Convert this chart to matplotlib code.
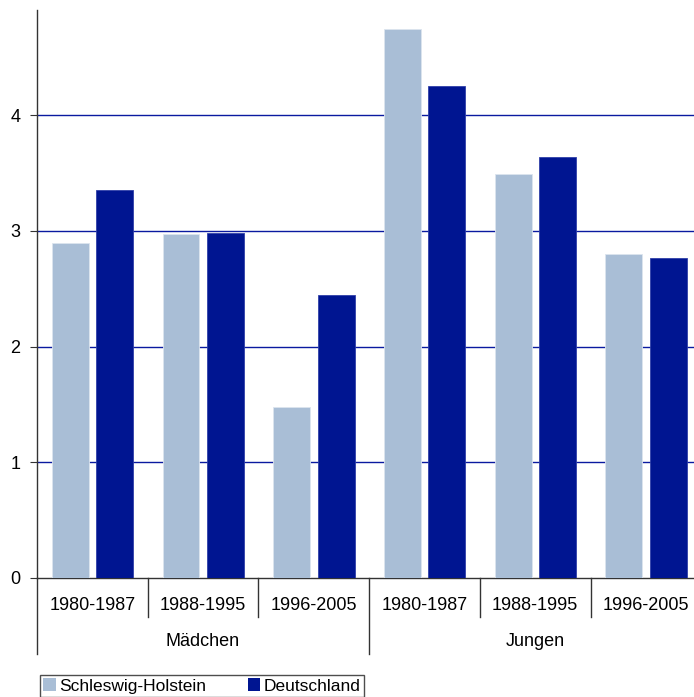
import matplotlib
matplotlib.use("Agg")
import matplotlib.pyplot as plt
import numpy as np
from matplotlib.patches import Patch
from matplotlib.transforms import blended_transform_factory

plt.rcParams['font.family'] = ['Liberation Sans', 'DejaVu Sans']

periods = ["1980-1987", "1988-1995", "1996-2005", "1980-1987", "1988-1995", "1996-2005"]
groups = ["Mädchen", "Jungen"]
series_names = ["Schleswig-Holstein", "Deutschland"]
schleswig_holstein = [2.90, 2.97, 1.48, 4.75, 3.49, 2.80]
deutschland = [3.35, 2.98, 2.45, 4.25, 3.64, 2.77]
yticks = [0, 1, 2, 3, 4]

light = "#A9BED6"
dark = "#001591"
grid_col = "#0A1AA0"

W, H = 694, 697
GW = 110.7  # pixel width of one category
fig = plt.figure(figsize=(W / 100, H / 100), dpi=100)
ax = fig.add_axes([37 / W, 1 - 578 / H, 6 * GW / W, (578 - 10) / H])

n = len(periods)
x = np.arange(n)
bw = 36.8 / GW
gap = 7.6 / GW
left_off = 15 / GW
ax.bar(x + left_off, schleswig_holstein, width=bw, align='edge', color=light,
       edgecolor='#DCE4EE', linewidth=0.6, zorder=3)
ax.bar(x + left_off + bw + gap, deutschland, width=bw, align='edge', color=dark,
       edgecolor='#3040A8', linewidth=0.6, zorder=3)

ax.set_xlim(0, n)
ax.set_ylim(0, 4.91)
ax.set_yticks(yticks)
ax.set_yticklabels([str(t) for t in yticks], fontsize=13)
ax.tick_params(axis='y', length=5, width=0.8, pad=7, color='#333333')
ax.set_xticks([])
for t in yticks[1:]:
    ax.axhline(t, color=grid_col, linewidth=1.0, zorder=1)

for s in ['top', 'right']:
    ax.spines[s].set_visible(False)
ax.spines['left'].set_color('#333333')
ax.spines['bottom'].set_color('#333333')
ax.spines['left'].set_linewidth(1.0)
ax.spines['bottom'].set_linewidth(1.0)

trans = blended_transform_factory(ax.transData, fig.transFigure)
def fy(py):
    return 1 - py / H

# period separators and labels
for i in range(n):
    bottom = 654 if i % 3 == 0 else 617
    ax.plot([i, i], [fy(578), fy(bottom)], transform=trans, color='#333333',
            linewidth=1.0, clip_on=False)
for i, p in enumerate(periods):
    ax.text(i + 0.5, fy(605), p, transform=trans, ha='center', va='center', fontsize=13)
for g, name in enumerate(groups):
    ax.text(g * 3 + 1.5, fy(641), name, transform=trans, ha='center', va='center', fontsize=13)

handles = [Patch(facecolor=light, edgecolor='none'), Patch(facecolor=dark, edgecolor='none')]
leg = fig.legend(handles, series_names, loc='upper left',
                 bbox_to_anchor=(40 / W, fy(675)), ncol=2, frameon=True,
                 fontsize=12.5, handlelength=0.7, handleheight=0.7, handletextpad=0.2,
                 columnspacing=2.4, borderpad=0.2, borderaxespad=0)
leg.get_frame().set_edgecolor('#222222')
leg.get_frame().set_linewidth(1.0)
leg.get_frame().set_boxstyle('square', pad=0)

fig.savefig("out.png", dpi=100)
